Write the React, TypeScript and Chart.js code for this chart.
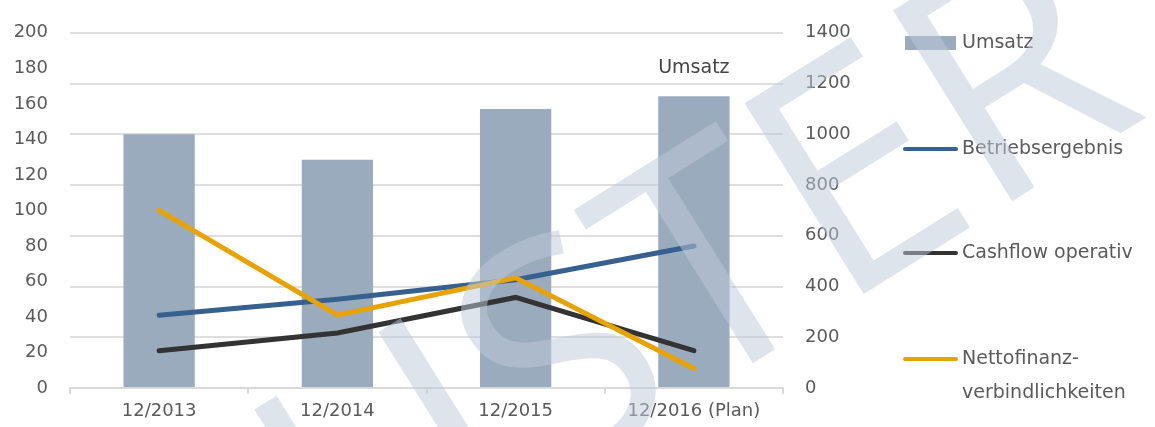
import React, { useEffect, useRef } from "react";
import { Chart, registerables } from "chart.js";

Chart.register(...registerables);

const categories = ["12/2013", "12/2014", "12/2015", "12/2016 (Plan)"];
const umsatz = [1000, 900, 1100, 1150];
const betriebsergebnis = [41, 50, 61, 80];
const cashflow = [21, 31, 51, 21];
const nettofinanz = [100, 41, 62, 11];
const leftAxis = { min: 0, max: 200, step: 20 };
const rightAxis = { min: 0, max: 1400, step: 200 };
const legendItems = [
  { label: ["Umsatz"], kind: "bar", color: "#9aabbd" },
  { label: ["Betriebsergebnis"], kind: "line", color: "#36618e" },
  { label: ["Cashflow operativ"], kind: "line", color: "#333333" },
  { label: ["Nettofinanz-", "verbindlichkeiten"], kind: "line", color: "#e8a202" },
];
const watermarkText = "MUSTER";

const FONT = "'DejaVu Sans', sans-serif";
const TEXT = "#5a5a5a";

const extrasPlugin = {
  id: "extras",
  afterDraw(chart: any) {
    const ctx = chart.ctx;
    const x = chart.scales.x;
    const y1 = chart.scales.y1;
    ctx.save();
    // annotation above last bar
    ctx.font = `19px ${FONT}`;
    ctx.fillStyle = "#444";
    ctx.textAlign = "center";
    ctx.textBaseline = "middle";
    const lastIdx = categories.length - 1;
    ctx.fillText("Umsatz", x.getPixelForValue(lastIdx), y1.getPixelForValue(umsatz[lastIdx]) - 28);

    // legend
    const legendYs = [43, 149, 253, 359];
    ctx.font = `19px ${FONT}`;
    ctx.textAlign = "left";
    legendItems.forEach((it, i) => {
      const cy = legendYs[i];
      if (it.kind === "bar") {
        ctx.fillStyle = it.color;
        ctx.fillRect(905, cy - 7, 51, 14);
      } else {
        ctx.strokeStyle = it.color;
        ctx.lineWidth = 4;
        ctx.lineCap = "round";
        ctx.beginPath();
        ctx.moveTo(905, cy);
        ctx.lineTo(956, cy);
        ctx.stroke();
      }
      ctx.fillStyle = TEXT;
      it.label.forEach((t, j) => ctx.fillText(t, 962, cy + j * 34));
    });

    // watermark
    ctx.translate(630, 440);
    ctx.rotate((-32 * Math.PI) / 180);
    ctx.font = `315px 'Open Sans', sans-serif`;
    ctx.fillStyle = "rgba(190,202,218,0.5)";
    ctx.textAlign = "center";
    ctx.textBaseline = "alphabetic";
    ctx.fillText(watermarkText, 0, 0);
    ctx.restore();
  },
};

export default function App() {
  const ref = useRef<HTMLCanvasElement>(null);
  useEffect(() => {
    document.body.style.margin = "0";
    Chart.defaults.font.family = FONT;
    Chart.defaults.font.size = 18;
    Chart.defaults.color = TEXT;
    const chart = new Chart(ref.current!, {
      type: "bar",
      data: {
        labels: categories,
        datasets: [
          {
            type: "line",
            label: "Betriebsergebnis",
            data: betriebsergebnis,
            yAxisID: "y",
            borderColor: "#36618e",
            borderWidth: 5,
            pointRadius: 0,
            borderCapStyle: "round",
            order: 3,
          } as any,
          {
            type: "line",
            label: "Cashflow operativ",
            data: cashflow,
            yAxisID: "y",
            borderColor: "#333333",
            borderWidth: 5,
            pointRadius: 0,
            borderCapStyle: "round",
            order: 2,
          },
          {
            type: "line",
            label: "Nettofinanzverbindlichkeiten",
            data: nettofinanz,
            yAxisID: "y",
            borderColor: "#e8a202",
            borderWidth: 5,
            pointRadius: 0,
            borderCapStyle: "round",
            order: 1,
          },
          {
            type: "bar",
            label: "Umsatz",
            data: umsatz,
            yAxisID: "y1",
            backgroundColor: "#9aabbd",
            categoryPercentage: 1,
            barPercentage: 0.4,
            order: 10,
          },
        ],
      },
      options: {
        animation: false,
        responsive: false,
        maintainAspectRatio: false,
        layout: { padding: { left: 0, right: 292, top: 23, bottom: 0 } },
        plugins: { legend: { display: false }, tooltip: { enabled: false } },
        scales: {
          x: {
            offset: true,
            grid: {
              offset: true,
              drawOnChartArea: false,
              drawTicks: true,
              tickLength: 6,
              color: "#d9d9d9",
              lineWidth: 2,
            },
            border: { display: true, color: "#d9d9d9", width: 2 },
            ticks: { padding: 7, color: TEXT, font: { size: 18 } },
            afterFit(s: any) {
              s.height = 39;
            },
          },
          y: {
            position: "left",
            min: leftAxis.min,
            max: leftAxis.max,
            ticks: { stepSize: leftAxis.step, padding: 22, color: TEXT, callback: (v: any) => String(v) },
            grid: { display: false, drawTicks: false },
            border: { display: false },
            afterFit(s: any) {
              s.width = 70;
            },
          },
          y1: {
            position: "right",
            min: rightAxis.min,
            max: rightAxis.max,
            ticks: { stepSize: rightAxis.step, padding: 22, color: TEXT, callback: (v: any) => String(v) },
            grid: { color: "#dedede", lineWidth: 2, drawTicks: false },
            border: { display: false },
            afterFit(s: any) {
              s.width = 80;
            },
          },
        },
      },
      plugins: [extrasPlugin],
    });
    return () => chart.destroy();
  }, []);
  return <canvas ref={ref} width={1155} height={427} style={{ display: "block" }} />;
}
